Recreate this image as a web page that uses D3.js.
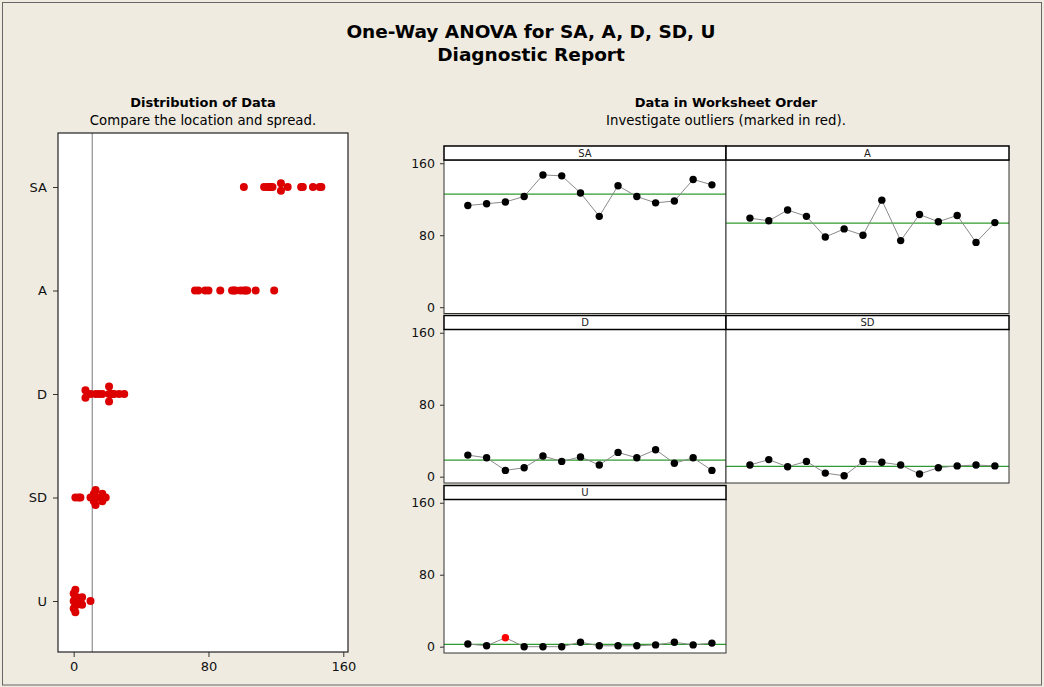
<!DOCTYPE html>
<html><head><meta charset="utf-8">
<script src="https://cdn.jsdelivr.net/npm/d3@7"></script>
<style>
body{margin:0;background:#efebe1;}
svg{display:block;font-family:"DejaVu Sans",Verdana,sans-serif;}
</style>
</head><body>
<svg id="c" width="1044" height="687"></svg>
<script>
// ---------------- data ----------------
const categories = ["SA", "A", "D", "SD", "U"];
const SA = [113, 115, 117, 123, 147, 146, 127, 101, 135, 123, 116, 118, 142, 136];
const A  = [99, 96, 108, 101, 78, 87, 80, 119, 74, 103, 95, 102, 72, 94];
const D  = [24, 21, 7, 10, 23, 17, 22, 13, 27, 21, 30, 15, 21, 7];
const SD = [13, 19, 11, 17, 4, 1, 17, 16, 13, 3, 10, 12, 13, 12];
const U  = [3, 1, 10, 0, 0, 0, 5, 1, 1, 1, 2, 5, 2, 4];
const outlierIndex = {SA: [], A: [], D: [], SD: [], U: [2]};
const leftTicks = [0, 80, 160];
const rightTicks = [0, 80, 160];
const refValue = 11;
const series = {SA, A, D, SD, U};

// ---------------- layout ----------------
const svg = d3.select("#c");
const W = 1044, H = 687;
const FF = '"DejaVu Sans",Verdana,sans-serif';
svg.append("rect").attr("x", 0).attr("y", 0).attr("width", W).attr("height", H).attr("fill", "#efebe1");
svg.append("rect").attr("x", 2.5).attr("y", 2.5).attr("width", W - 5).attr("height", H - 4.5)
  .attr("fill", "none").attr("stroke", "#666").attr("stroke-width", 1);

// titles
svg.append("text").attr("x", 531).attr("y", 38).attr("text-anchor", "middle")
  .attr("font-size", 18.5).attr("font-weight", "bold").attr("fill", "#000").text("One-Way ANOVA for SA, A, D, SD, U");
svg.append("text").attr("x", 531).attr("y", 61).attr("text-anchor", "middle")
  .attr("font-size", 18.5).attr("font-weight", "bold").attr("fill", "#000").text("Diagnostic Report");

function subtitle(x, t1, t2) {
  svg.append("text").attr("x", x).attr("y", 107).attr("text-anchor", "middle")
    .attr("font-size", 13).attr("font-weight", "bold").attr("fill", "#000").text(t1);
  svg.append("text").attr("x", x).attr("y", 124.5).attr("text-anchor", "middle")
    .attr("font-size", 13.3).attr("fill", "#000").text(t2);
}
subtitle(203, "Distribution of Data", "Compare the location and spread.");
subtitle(726, "Data in Worksheet Order", "Investigate outliers (marked in red).");

// ---------------- left dot plot ----------------
const L = {x0: 58, x1: 348, y0: 133, y1: 652};
const xL = d3.scaleLinear().domain([-9.3, 162.8]).range([L.x0, L.x1]);
const yL = d3.scalePoint().domain(categories).range([187, 601]);

const gL = svg.append("g");
gL.append("rect").attr("x", L.x0).attr("y", L.y0).attr("width", L.x1 - L.x0).attr("height", L.y1 - L.y0)
  .attr("fill", "#fff");
gL.append("line").attr("x1", xL(refValue)).attr("x2", xL(refValue)).attr("y1", L.y0).attr("y2", L.y1)
  .attr("stroke", "#777").attr("stroke-width", 1);

// x axis
const axB = gL.append("g").attr("transform", `translate(0,${L.y1})`)
  .call(d3.axisBottom(xL).tickValues(leftTicks).tickSize(5).tickPadding(5).tickFormat(d3.format("d")));
axB.select(".domain").remove();
axB.selectAll("text").attr("font-size", 13).attr("fill", "#111").attr("font-family", FF);
axB.selectAll("line").attr("stroke", "#333");
// y axis
const axLft = gL.append("g").attr("transform", `translate(${L.x0},0)`)
  .call(d3.axisLeft(yL).tickSize(5).tickPadding(6));
axLft.select(".domain").remove();
axLft.selectAll("text").attr("font-size", 13).attr("fill", "#111").attr("font-family", FF);
axLft.selectAll("line").attr("stroke", "#333");

// stacked dots (identical values stacked vertically, symmetric)
const step = 7.5;
categories.forEach(cat => {
  const groups = d3.group(series[cat], v => v);
  groups.forEach((arr, v) => {
    const n = arr.length;
    arr.forEach((_, i) => {
      const off = (i - (n - 1) / 2) * step;
      gL.append("circle").attr("cx", xL(v)).attr("cy", yL(cat) + off).attr("r", 4)
        .attr("fill", "#dc0000");
    });
  });
});
gL.append("rect").attr("x", L.x0).attr("y", L.y0).attr("width", L.x1 - L.x0).attr("height", L.y1 - L.y0)
  .attr("fill", "none").attr("stroke", "#222").attr("stroke-width", 1.2);

// ---------------- right panels ----------------
const colX = [444, 726, 1009];
const rowTop = [146, 315.5, 485.5];
const headH = 14, plotH = 153.5;
const panels = [
  {name: "SA", col: 0, row: 0}, {name: "A", col: 1, row: 0},
  {name: "D", col: 0, row: 1}, {name: "SD", col: 1, row: 1},
  {name: "U", col: 0, row: 2}
];

panels.forEach(p => {
  const x0 = colX[p.col], x1 = colX[p.col + 1];
  const hy = rowTop[p.row], py0 = hy + headH, py1 = py0 + plotH;
  const xs = d3.scaleLinear().domain([-0.27, 14.75]).range([x0, x1]);
  const ys = d3.scaleLinear().domain([-7, 163.6]).range([py1, py0]);
  const vals = series[p.name];
  const g = svg.append("g");
  g.append("rect").attr("x", x0).attr("y", py0).attr("width", x1 - x0).attr("height", plotH).attr("fill", "#fff");
  // mean line
  const m = d3.mean(vals);
  g.append("line").attr("x1", x0).attr("x2", x1).attr("y1", ys(m)).attr("y2", ys(m))
    .attr("stroke", "#2f9a2f").attr("stroke-width", 1.3);
  // connecting line
  g.append("path").datum(vals)
    .attr("d", d3.line().x((d, i) => xs(i + 1)).y(d => ys(d)))
    .attr("fill", "none").attr("stroke", "#8a8a8a").attr("stroke-width", 1);
  g.selectAll("circle").data(vals).enter().append("circle")
    .attr("cx", (d, i) => xs(i + 1)).attr("cy", d => ys(d)).attr("r", 3.7)
    .attr("fill", (d, i) => outlierIndex[p.name].includes(i) ? "#ff0000" : "#000");
  g.append("rect").attr("x", x0).attr("y", py0).attr("width", x1 - x0).attr("height", plotH)
    .attr("fill", "none").attr("stroke", "#333").attr("stroke-width", 1);
  // header
  g.append("rect").attr("x", x0).attr("y", hy).attr("width", x1 - x0).attr("height", headH)
    .attr("fill", "#fff").attr("stroke", "#000").attr("stroke-width", 1.5);
  g.append("text").attr("x", (x0 + x1) / 2).attr("y", hy + headH / 2 + 3.5).attr("text-anchor", "middle")
    .attr("font-size", 10).attr("fill", "#222").text(p.name);
  if (p.col === 0) {
    const ax = g.append("g").attr("transform", `translate(${x0},0)`)
      .call(d3.axisLeft(ys).tickValues(rightTicks).tickSize(4).tickPadding(5).tickFormat(d3.format("d")));
    ax.select(".domain").remove();
    ax.selectAll("text").attr("font-size", 12.5).attr("fill", "#111").attr("font-family", FF);
    ax.selectAll("line").attr("stroke", "#333");
  }
});
</script>
</body></html>
